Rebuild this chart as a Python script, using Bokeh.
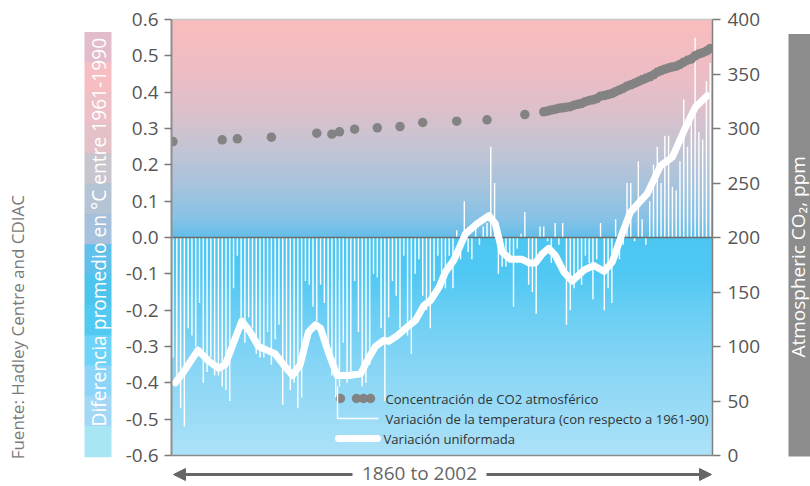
import numpy as np
from bokeh.plotting import figure
from bokeh.models import Range1d, LinearAxis, Label, FixedTicker, Arrow, NormalHead, NumeralTickFormatter
from bokeh.layouts import row
from bokeh.embed import file_html
from bokeh.resources import INLINE

FONT = "Open Sans"

# ---------------- data ----------------
years = list(range(1860, 2003))
temp_anom = [
    -0.33, -0.40, -0.47, -0.52, -0.25, -0.27, -0.30, -0.18, -0.40, -0.37,   # 1860s
    -0.33, -0.38, -0.38, -0.41, -0.42, -0.45, -0.14, -0.05, -0.22, -0.29,   # 1870s
    -0.22, -0.25, -0.32, -0.33, -0.33, -0.26, -0.35, -0.28, -0.24, -0.46,   # 1880s
    -0.37, -0.42, -0.40, -0.47, -0.44, -0.12, -0.13, -0.19, -0.23, -0.13,   # 1890s
    -0.18, -0.30, -0.38, -0.44, -0.41, -0.29, -0.40, -0.38, -0.12, -0.26,   # 1900s
    -0.41, -0.40, -0.35, -0.10, -0.11, -0.25, -0.45, -0.22, -0.12, -0.16,   # 1910s
    -0.25, -0.05, -0.27, -0.32, -0.10, -0.06, -0.16, -0.20, -0.25, -0.12,   # 1920s
    -0.05, -0.11, -0.14, -0.05, -0.14, 0.02, -0.06, 0.10, -0.04, -0.06,     # 1930s
    0.03, -0.02, 0.03, 0.04, 0.25, 0.15, -0.10, -0.08, -0.08, -0.05,        # 1940s
    -0.19, -0.03, 0.01, 0.07, -0.13, -0.15, -0.21, 0.03, 0.03, -0.01,       # 1950s
    -0.07, 0.04, -0.02, 0.04, -0.24, -0.20, -0.14, -0.11, -0.13, -0.05,     # 1960s
    -0.07, -0.17, -0.06, 0.04, -0.20, -0.14, -0.18, 0.05, -0.06, -0.02,     # 1970s
    0.15, 0.15, -0.01, 0.21, 0.05, -0.02, 0.10, 0.20, 0.25, 0.15,          # 1980s
    0.28, 0.28, 0.14, 0.13, 0.21, 0.38, 0.25, 0.33, 0.55, 0.29,            # 1990s
    0.27, 0.43, 0.48,                                                      # 2000s
]

smooth_years = [1860.6, 1862.8, 1866.6, 1869.4, 1872.0, 1873.8, 1876.0, 1878.2, 1880.4,
                1882.6, 1884.8, 1887.0, 1889.2, 1891.6, 1893.6, 1895.8, 1897.7, 1899.0,
                1901.2, 1903.4, 1906.5, 1909.6, 1911.8, 1913.5, 1915.7, 1917.0, 1919.3,
                1921.5, 1924.1, 1926.3, 1928.1, 1930.3, 1932.0, 1934.2, 1937.3, 1940.4,
                1943.5, 1945.2, 1947.0, 1949.2, 1952.3, 1954.1, 1955.8, 1957.6, 1959.3,
                1961.1, 1963.3, 1965.5, 1968.6, 1971.2, 1973.9, 1976.1, 1978.7, 1980.9,
                1985.3, 1988.9, 1992.0, 1995.5, 1998.1, 2001.2]
smooth_vals = [-0.40, -0.37, -0.31, -0.34, -0.36, -0.35, -0.29, -0.23, -0.26,
               -0.30, -0.31, -0.32, -0.35, -0.38, -0.35, -0.26, -0.24, -0.25,
               -0.32, -0.38, -0.38, -0.375, -0.33, -0.30, -0.283, -0.286, -0.27,
               -0.25, -0.228, -0.187, -0.173, -0.137, -0.095, -0.063, 0.01, 0.038,
               0.06, 0.038, -0.04, -0.06, -0.06, -0.07, -0.07, -0.045, -0.03,
               -0.05, -0.095, -0.12, -0.09, -0.077, -0.093, -0.068, 0.01, 0.07,
               0.12, 0.198, 0.221, 0.304, 0.359, 0.39]

co2_years = [1860, 1873, 1877, 1886, 1898, 1902, 1904, 1908, 1914, 1920, 1926, 1935, 1943, 1953] + list(range(1958, 2003))
co2_ppm = [288.0, 289.6, 290.5, 292.0, 295.7, 294.8, 297.0, 299.4, 300.6, 301.8, 305.5, 306.7, 308.0, 312.8,
           315.3, 316.0, 316.9, 317.6, 318.5, 319.0, 319.6, 320.0, 321.4, 322.2, 323.0, 324.6, 325.7,
           326.3, 327.5, 329.7, 330.2, 331.1, 332.0, 333.8, 335.4, 336.8, 338.8, 340.1, 341.5, 343.1,
           344.7, 346.1, 347.4, 349.2, 351.6, 353.1, 354.4, 355.6, 356.5, 357.1, 358.8, 360.8, 362.6,
           363.7, 366.7, 368.4, 369.6, 371.1, 373.3]

left_ticks = [-0.6, -0.5, -0.4, -0.3, -0.2, -0.1, 0.0, 0.1, 0.2, 0.3, 0.4, 0.5, 0.6]
right_ticks = [0, 50, 100, 150, 200, 250, 300, 350, 400]

source_text = "Fuente: Hadley Centre and CDIAC"
left_title = "Diferencia promedio en °C entre 1961-1990"
right_title = "Atmospheric CO\u2082, ppm"
period_text = "1860 to 2002"
legend_texts = ["Concentración de CO2 atmosférico",
                "Variación de la temperatura (con respecto a 1961-90)",
                "Variación uniformada"]

# ---------------- geometry / style ----------------
PAGE_W, PAGE_H = 810, 486
FRAME_W = 541
PLOT_TOP, PLOT_BOT = 19, 455          # page y of 0.6 and -0.6
MAIN_L, MAIN_R = 58, 68
LEFT_W, RIGHT_W = 113, 30
TOP_B = 15
X0, X1 = 1859.6, 2002.6
Y0, Y1 = -0.6, 0.6
C0, C1 = 0, 400
PX_PER_V = (PLOT_BOT - PLOT_TOP) / (Y1 - Y0)
PX_PER_C = (PLOT_BOT - PLOT_TOP) / (C1 - C0)

def xv(px):  # page px -> year coordinate
    return X0 + (px - 171) / FRAME_W * (X1 - X0)

def yv(py):  # page px -> value coordinate
    return Y1 - (py - PLOT_TOP) / PX_PER_V

grad_stops_v = [-0.6, -0.5, -0.35, -0.2, -0.1, -0.001, 0.0, 0.05, 0.15, 0.25, 0.35, 0.45, 0.6]
grad_stops_c = ["#ADE2F8", "#9DDCF6", "#86D5F5", "#69CEF4", "#4FC8F3", "#4DC6F1", "#62BEEA",
                "#85C2E6", "#A9C3DC", "#C4C4D3", "#DCC0CB", "#EDBDC4", "#F9BDBD"]

def hex2rgb(h):
    return np.array([int(h[i:i + 2], 16) for i in (1, 3, 5)], dtype=float)

def interp_color(v):
    rgbs = np.array([hex2rgb(c) for c in grad_stops_c])
    r = [np.interp(v, grad_stops_v, rgbs[:, k]) for k in range(3)]
    return "#%02x%02x%02x" % tuple(int(round(c)) for c in r)

# ---------------- main figure ----------------
y_lo = Y0 - (PAGE_H - PLOT_BOT) / PX_PER_V
y_hi = Y1 + (PLOT_TOP - TOP_B) / PX_PER_V
c_lo = C0 - (PAGE_H - PLOT_BOT) / PX_PER_C
c_hi = C1 + (PLOT_TOP - TOP_B) / PX_PER_C

p = figure(width=MAIN_L + FRAME_W + MAIN_R, height=PAGE_H,
           x_range=Range1d(X0, X1), y_range=Range1d(y_lo, y_hi),
           output_backend="svg", toolbar_location=None,
           min_border_left=MAIN_L, min_border_right=MAIN_R,
           min_border_top=TOP_B, min_border_bottom=0,
           x_axis_location=None)
p.extra_y_ranges = {"co2": Range1d(c_lo, c_hi)}
p.grid.visible = False
p.outline_line_color = None
p.background_fill_color = "white"
p.border_fill_color = "white"

# gradient background
n_band = 240
edges = np.linspace(Y0, Y1, n_band + 1)
bot = edges[:-1]
top = np.minimum(edges[1:] + 0.003, Y1)
mids = (edges[:-1] + edges[1:]) / 2
p.quad(left=X0, right=X1, bottom=bot, top=top,
       fill_color=[interp_color(m) for m in mids], line_color=None)

# frame top / bottom lines
p.segment(x0=[X0], y0=[Y1], x1=[X1], y1=[Y1], line_color="#c8c8c8", line_width=1.5)
p.segment(x0=[X0], y0=[Y0], x1=[X1], y1=[Y0], line_color="#8a8a8a", line_width=1.5)

# temperature bars
p.segment(x0=years, y0=[0] * len(years), x1=years, y1=temp_anom,
          line_color="white", line_width=1.4)
# zero line
p.segment(x0=[X0], y0=[0], x1=[X1], y1=[0], line_color="#6b6b6b", line_width=1.3)
# smoothed curve
p.line(smooth_years, smooth_vals, line_color="white", line_width=7,
       line_join="round", line_cap="round")
# CO2
p.scatter(co2_years, co2_ppm, size=9.5, fill_color="#838383", line_color=None,
          y_range_name="co2")

# left axis
ya = p.yaxis[0]
ya.ticker = FixedTicker(ticks=left_ticks)
ya.bounds = (Y0, Y1)
ya.formatter = NumeralTickFormatter(format="0.0")
ya.minor_tick_line_color = None
ya.major_tick_out = 7
ya.major_tick_in = 0
ya.major_tick_line_color = "#7a7a7a"
ya.major_tick_line_width = 1.5
ya.axis_line_color = "#8f8f8f"
ya.axis_line_width = 2
ya.major_label_text_font = FONT
ya.major_label_text_font_size = "19px"
ya.major_label_text_color = "#555555"
ya.major_label_standoff = 6

# right axis
ra = LinearAxis(y_range_name="co2", ticker=FixedTicker(ticks=right_ticks), bounds=(C0, C1))
ra.minor_tick_line_color = None
ra.major_tick_out = 8
ra.major_tick_in = 0
ra.major_tick_line_color = "#7a7a7a"
ra.major_tick_line_width = 1.5
ra.axis_line_color = "#7f7f7f"
ra.axis_line_width = 1.5
ra.major_label_text_font = FONT
ra.major_label_text_font_size = "19px"
ra.major_label_text_color = "#555555"
ra.major_label_standoff = 7
p.add_layout(ra, "right")

# legend (drawn by hand)
r1, r2, r3 = yv(398), yv(418), yv(438)
p.scatter([xv(340), xv(356), xv(363), xv(370)], [r1] * 4, size=9.5,
          fill_color="#838383", line_color=None)
p.segment(x0=[xv(337), xv(337)], y0=[yv(386), r2], x1=[xv(337), xv(378)], y1=[r2, r2],
          line_color="white", line_width=1.4)
p.segment(x0=[xv(338)], y0=[r3], x1=[xv(377)], y1=[r3], line_color="white",
          line_width=7, line_cap="round")
for txt, yy, xx in zip(legend_texts, [r1, r2, r3], [385, 385, 383]):
    p.add_layout(Label(x=xv(xx), y=yy, text=txt, text_font=FONT, text_font_size="13.1px",
                       text_color="#333333", text_baseline="middle", text_align="left"))

# bottom period arrow
ya_arrow = yv(474)
for xs, xe in [(352, 173), (486, 711)]:
    p.add_layout(Arrow(end=NormalHead(size=12, fill_color="#666666", line_color="#666666"),
                       x_start=xv(xs), y_start=ya_arrow, x_end=xv(xe), y_end=ya_arrow,
                       line_color="#666666", line_width=3))
p.add_layout(Label(x=xv(419), y=yv(472), text=period_text, text_font=FONT, text_font_size="19px",
                   text_color="#666666", text_align="center", text_baseline="middle"))

# ---------------- left decoration ----------------
yl0 = Y0 - (PAGE_H - PLOT_BOT) / PX_PER_V
yl1 = Y1 + PLOT_TOP / PX_PER_V
fl = figure(width=LEFT_W, height=PAGE_H, x_range=Range1d(0, LEFT_W), y_range=Range1d(yl0, yl1),
            output_backend="svg", toolbar_location=None, min_border=0,
            x_axis_location=None, y_axis_location=None)
fl.grid.visible = False
fl.outline_line_color = None
fl.border_fill_color = "white"
bar_cols = ["#E3BCCB", "#F6BEC3", "#EDBFC6", "#E4C0C7", "#C9C5CD", "#B4C4D5", "#A7C0DC",
            "#5FC0EA", "#4CC4EC", "#52C9F1", "#6DD3F8", "#8DD5F8", "#A2D8F6", "#A9E6F4"]
nb = len(bar_cols)
bar_top = yv(17)
bedges = np.linspace(bar_top, Y0, nb + 1)
fl.quad(left=84, right=111, top=bedges[:-1], bottom=bedges[1:] - 0.002,
        fill_color=bar_cols, line_color=None)
fl.add_layout(Label(x=98, y=yv(424), text=left_title, angle=np.pi / 2, text_font=FONT,
                    text_font_size="19.2px", text_color="white", text_align="left",
                    text_baseline="middle"))
fl.add_layout(Label(x=17, y=yv(458), text=source_text, angle=np.pi / 2, text_font=FONT,
                    text_font_size="17px", text_color="#7a7a7a", text_align="left",
                    text_baseline="middle"))

# ---------------- right decoration ----------------
fr = figure(width=RIGHT_W, height=PAGE_H, x_range=Range1d(PAGE_W - RIGHT_W, PAGE_W), y_range=Range1d(yl0, yl1),
            output_backend="svg", toolbar_location=None, min_border=0,
            x_axis_location=None, y_axis_location=None)
fr.grid.visible = False
fr.outline_line_color = None
fr.border_fill_color = "white"
fr.quad(left=[788], right=[812], top=[Y1], bottom=[Y0], fill_color="#8c8c8c", line_color=None)
fr.add_layout(Label(x=797.5, y=yv(353), text=right_title, angle=np.pi / 2, text_font=FONT,
                    text_font_size="19px", text_color="white", text_align="left",
                    text_baseline="middle"))

layout = row(fl, p, fr)
open("out.html", "w").write(file_html(layout, INLINE))
